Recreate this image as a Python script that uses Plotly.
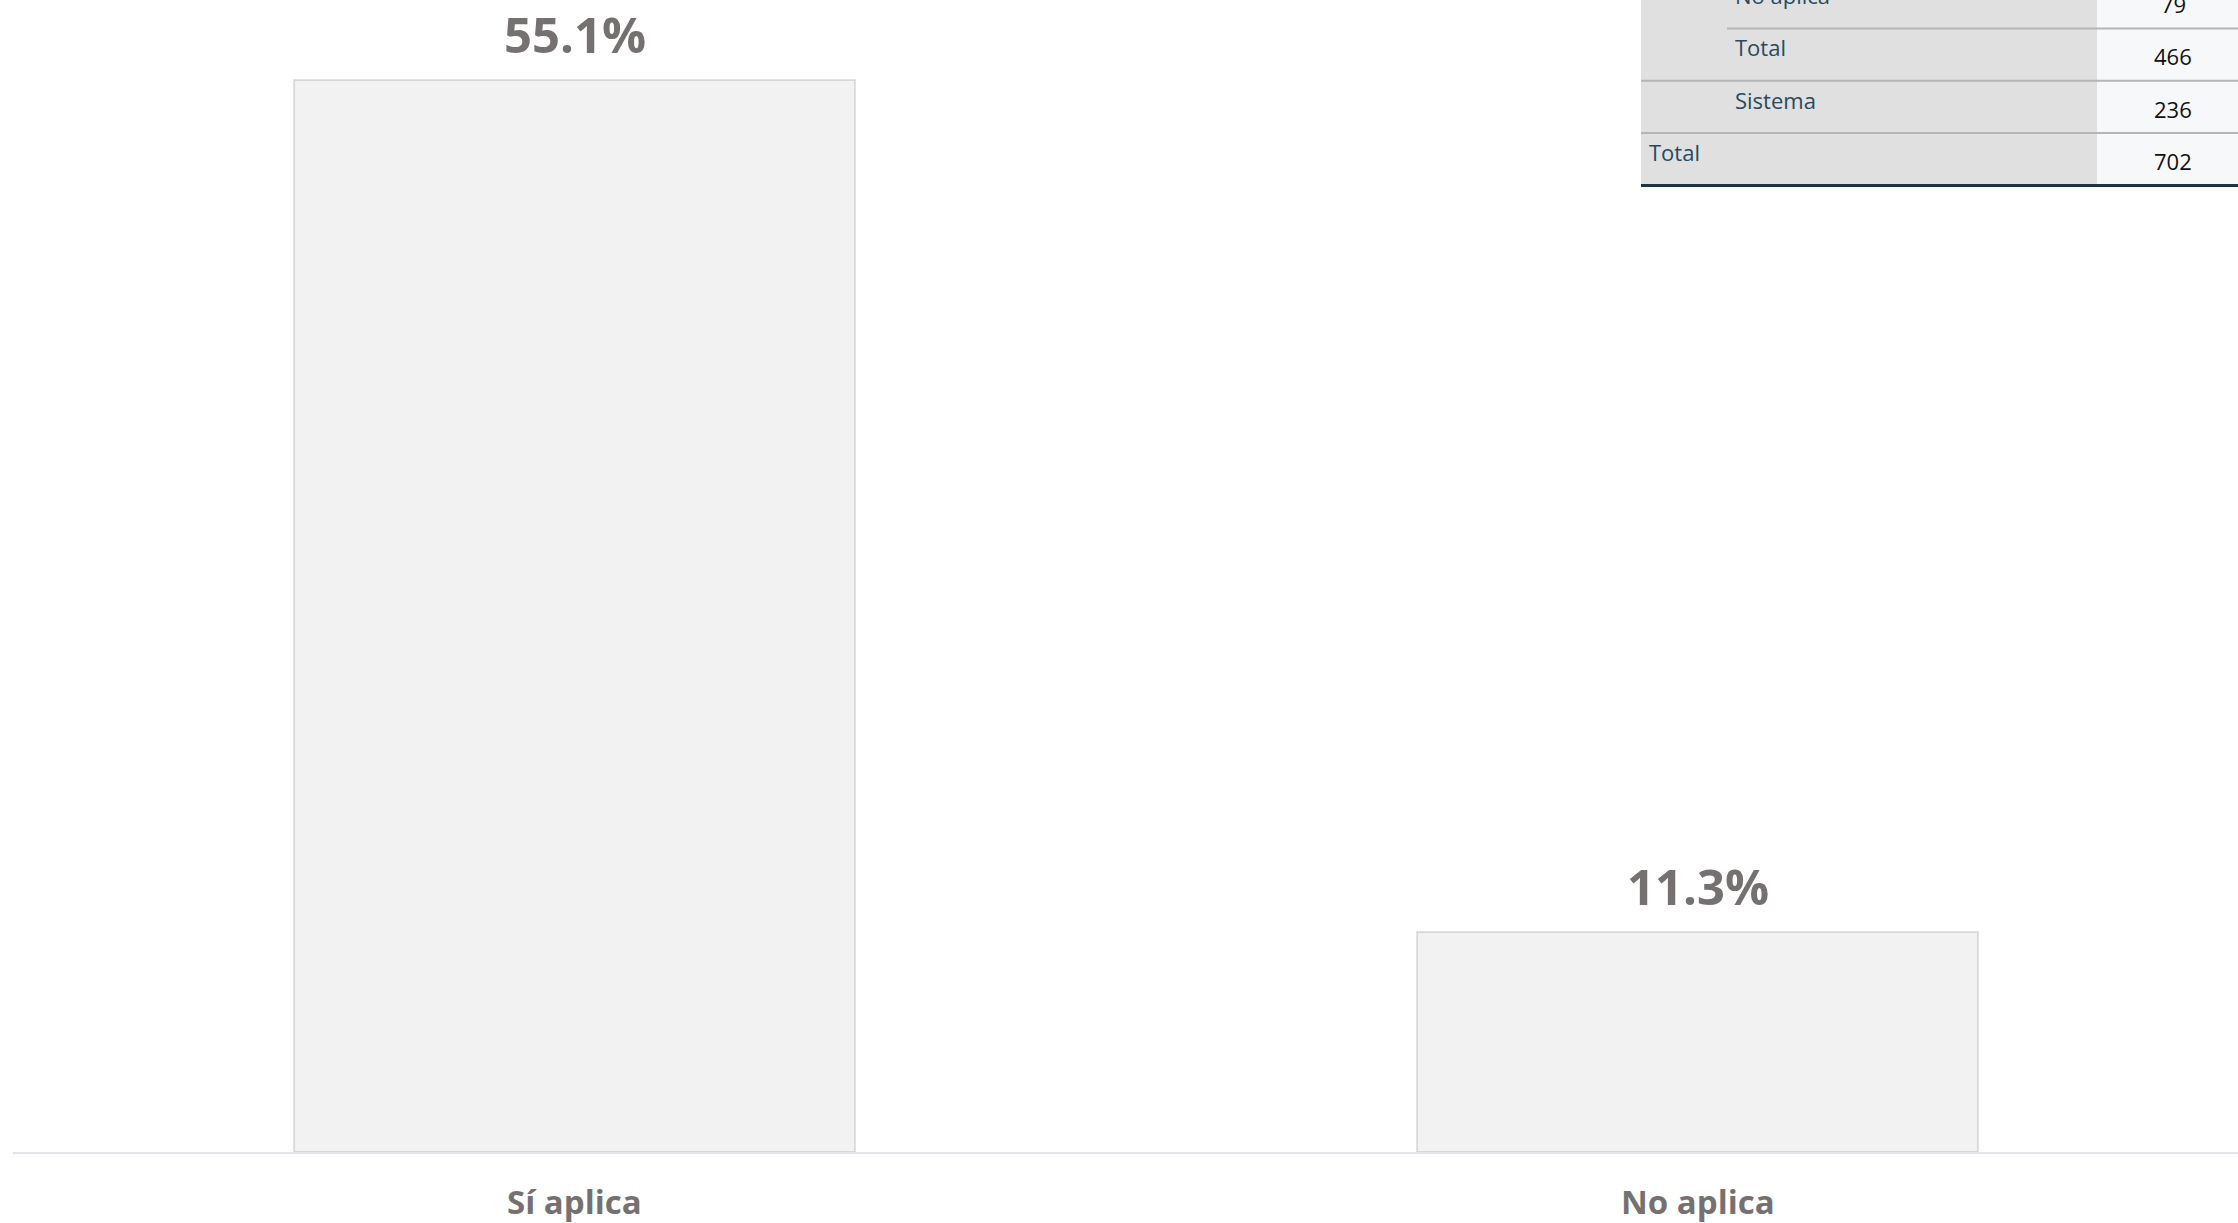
import plotly.graph_objects as go

# Bar data
categories = ["Sí aplica", "No aplica"]
percentages = [55.1, 11.3]

# Frequency table rows (partially visible block in the upper right)
table_labels = ["No aplica", "Total", "Sistema", "Total"]
table_indent = [1, 1, 1, 0]
table_values = ["79", "466", "236", "702"]

W, H = 2238, 1223
ML, MR, MT, MB = 13, 0, 0, 71
PLOT_W = W - ML - MR
PLOT_H = H - MT - MB

TEXT_GREY = "#767171"
LABEL_BLUE = "#264a60"


def px_x(px):
    return (px - ML) / PLOT_W


def px_y(py):
    return (H - MB - py) / PLOT_H


fig = go.Figure()
fig.add_trace(go.Bar(
    x=categories,
    y=percentages,
    width=0.5,
    marker=dict(color="#f2f2f2", line=dict(color="rgba(0,0,0,0.11)", width=2)),
    hoverinfo="skip",
    showlegend=False,
))

annotations = []
for cat, val in zip(categories, percentages):
    annotations.append(dict(
        x=cat, y=val, xref="x", yref="y",
        text=f"{val:.1f}%", showarrow=False,
        yanchor="middle", yshift=46,
        font=dict(family="Open Sans", size=49, color=TEXT_GREY, weight="bold"),
    ))
    annotations.append(dict(
        x=cat, y=0, xref="x", yref="y",
        text=cat, showarrow=False,
        yanchor="middle", yshift=-49,
        font=dict(family="Open Sans", size=33, color=TEXT_GREY, weight="bold"),
    ))

# Table geometry (pixels)
tbl_left, tbl_split, tbl_right = 1641, 2097, W + 5
row_h = 52.3
first_row_bottom = 28.5
row_bottoms = [first_row_bottom + i * row_h for i in range(len(table_labels))]

shapes = [
    dict(type="rect", xref="paper", yref="paper",
         x0=px_x(tbl_left), x1=px_x(tbl_split), y0=px_y(row_bottoms[-1]), y1=px_y(-5),
         fillcolor="#e0e0e0", line=dict(width=0), layer="below"),
    dict(type="rect", xref="paper", yref="paper",
         x0=px_x(tbl_split), x1=px_x(tbl_right), y0=px_y(row_bottoms[-1]), y1=px_y(-5),
         fillcolor="#f7f8fa", line=dict(width=0), layer="below"),
]

for i, (lab, ind, val) in enumerate(zip(table_labels, table_indent, table_values)):
    bottom = row_bottoms[i]
    top = bottom - row_h
    # separator under the row
    if i < len(table_labels) - 1:
        next_ind = table_indent[i + 1]
        x_start = 1727 if (ind == 1 and next_ind == 1 and table_labels[i + 1] == "Total") else tbl_left
        shapes.append(dict(type="line", xref="paper", yref="paper",
                           x0=px_x(x_start), x1=px_x(tbl_right),
                           y0=px_y(bottom), y1=px_y(bottom),
                           line=dict(color="#b5b5b5", width=2)))
    else:
        shapes.append(dict(type="line", xref="paper", yref="paper",
                           x0=px_x(tbl_left), x1=px_x(tbl_right),
                           y0=px_y(bottom), y1=px_y(bottom),
                           line=dict(color="#1f3340", width=3)))
    lab_x = 1733 if ind == 1 else 1647
    annotations.append(dict(
        x=px_x(lab_x), y=px_y(top + 19), xref="paper", yref="paper",
        text=lab, showarrow=False, xanchor="left", yanchor="middle",
        font=dict(family="Open Sans", size=22, color=LABEL_BLUE),
    ))
    annotations.append(dict(
        x=px_x(2173), y=px_y(top + 28), xref="paper", yref="paper",
        text=val, showarrow=False, xanchor="center", yanchor="middle",
        font=dict(family="Open Sans", size=22, color="#111111"),
    ))

fig.update_layout(
    width=W, height=H,
    margin=dict(l=ML, r=MR, t=MT, b=MB),
    paper_bgcolor="white",
    plot_bgcolor="white",
    xaxis=dict(
        range=[-0.5, -0.5 + PLOT_W / 1123.0],
        showgrid=False, zeroline=False,
        showline=True, linecolor="#e1e4e8", linewidth=2,
        showticklabels=False, ticks="",
        fixedrange=True,
    ),
    yaxis=dict(
        range=[0, PLOT_H / 19.46],
        visible=False, fixedrange=True,
    ),
    annotations=annotations,
    shapes=shapes,
    bargap=0,
)

fig.write_html("out.html", config={"displayModeBar": False})
